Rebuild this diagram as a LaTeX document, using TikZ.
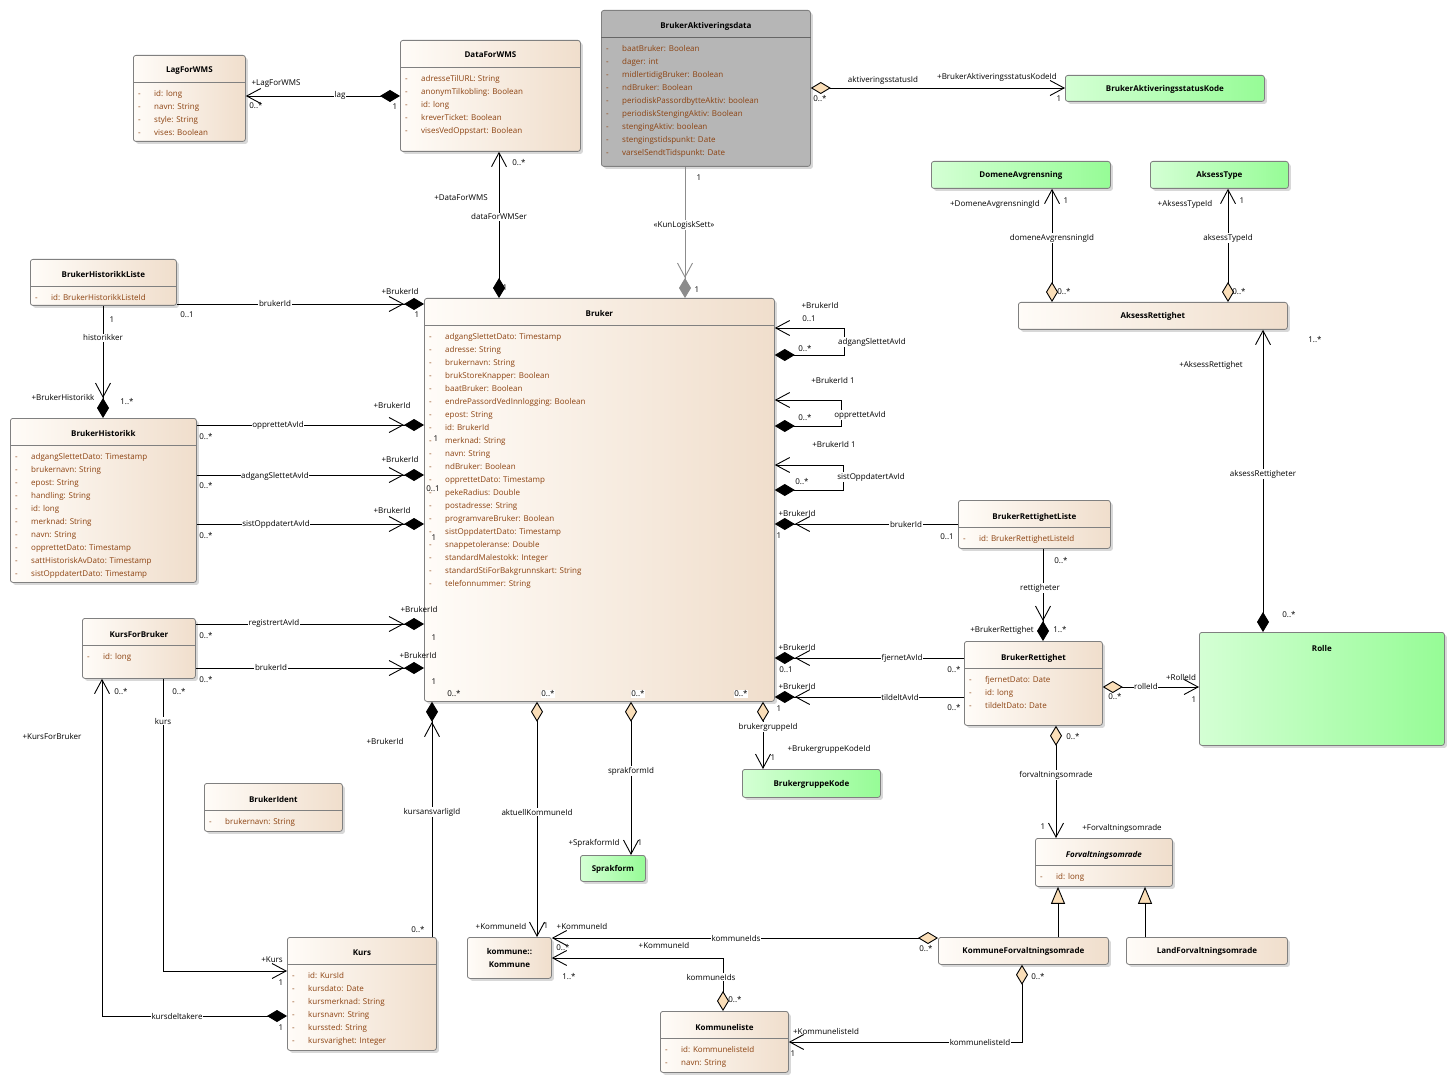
\documentclass[tikz,border=0pt]{standalone}
\usepackage{fontspec}
\setmainfont{Open Sans}
\usetikzlibrary{arrows.meta,calc,shadows}

\definecolor{clsL}{RGB}{255,252,248}
\definecolor{clsR}{RGB}{240,222,204}
\definecolor{grnL}{RGB}{212,255,212}
\definecolor{grnR}{RGB}{150,252,150}
\definecolor{greyC}{RGB}{182,182,182}
\definecolor{attC}{RGB}{140,66,16}
\definecolor{diaC}{RGB}{250,222,184}

% one attribute line of a class
\newcommand{\umlattr}[1]{\strut\makebox[16pt][l]{-}#1}

\begin{document}
\begin{tikzpicture}[x=1pt, y=-1pt,
  box/.style={draw=black!50, line width=0.8pt, rounded corners=2.5pt, anchor=north west, inner sep=0pt,
    drop shadow={shadow xshift=2.5pt, shadow yshift=-2.5pt, opacity=0.3}},
  cls/.style={box, left color=clsL, right color=clsR},
  kode/.style={box, left color=grnL, right color=grnR},
  grey/.style={box, fill=greyC},
  sepline/.style={draw=black!50, line width=0.8pt},
  ttl/.style={font=\fontsize{8}{13}\selectfont\bfseries, inner sep=0pt, align=center, text depth=0pt},
  att/.style={font=\fontsize{8}{13}\selectfont, text=attC, align=left, anchor=north west, inner sep=0pt},
  rl/.style={font=\fontsize{8}{10}\selectfont, inner sep=0.6pt},
  ml/.style={rl, fill=white},
  assoc/.style={draw=black, line width=0.9pt},
  cmp/.style={assoc, arrows={Straight Barb[length=14pt,width=15pt]-Diamond[length=20pt,width=12pt]}},
  navcmp/.style={assoc, arrows={-Straight Barb[length=14pt,width=15pt] Diamond[length=20pt,width=12pt]}},
  selfcmp/.style={assoc, arrows={Diamond[length=20pt,width=12pt]-Straight Barb[length=14pt,width=15pt]}},
  agg/.style={assoc, arrows={Diamond[length=20pt,width=12pt,fill=diaC]-Straight Barb[length=14pt,width=15pt]}},
  nav/.style={assoc, arrows={-Straight Barb[length=14pt,width=15pt]}},
  gen/.style={assoc, arrows={-Triangle[length=17pt,width=14pt,fill=diaC]}},
  logic/.style={navcmp, draw=black!45}]

\path[use as bounding box, fill=white] (0,0) rectangle (1454,1083);

% LagForWMS
\node[cls, minimum width=112, minimum height=86] (lagwms) at (133,55) {};
\node[ttl] (lagwmsT) at ($(lagwms.north)+(0,15)$) {LagForWMS};
\draw[sepline] ($(lagwms.north west)+(0,27)$) -- ($(lagwms.north east)+(0,27)$);
\node[att] (lagwmsA) at ($(lagwms.north west)+(5,32)$) {\umlattr{id: long}\\\umlattr{navn: String}\\\umlattr{style: String}\\\umlattr{vises: Boolean}};

% DataForWMS
\node[cls, minimum width=180, minimum height=111] (datawms) at (400,40) {};
\node[ttl] (datawmsT) at ($(datawms.north)+(0,15)$) {DataForWMS};
\draw[sepline] ($(datawms.north west)+(0,27)$) -- ($(datawms.north east)+(0,27)$);
\node[att] (datawmsA) at ($(datawms.north west)+(5,32)$) {\umlattr{adresseTilURL: String}\\\umlattr{anonymTilkobling: Boolean}\\\umlattr{id: long}\\\umlattr{kreverTicket: Boolean}\\\umlattr{visesVedOppstart: Boolean}};

% BrukerAktiveringsdata
\node[grey, minimum width=209, minimum height=156] (aktdata) at (601,10) {};
\node[ttl] (aktdataT) at ($(aktdata.north)+(0,15)$) {BrukerAktiveringsdata};
\draw[sepline, draw=black!60] ($(aktdata.north west)+(0,27)$) -- ($(aktdata.north east)+(0,27)$);
\node[att] (aktdataA) at ($(aktdata.north west)+(5,32)$) {\umlattr{baatBruker: Boolean}\\\umlattr{dager: int}\\\umlattr{midlertidigBruker: Boolean}\\\umlattr{ndBruker: Boolean}\\\umlattr{periodiskPassordbytteAktiv: boolean}\\\umlattr{periodiskStengingAktiv: Boolean}\\\umlattr{stengingAktiv: boolean}\\\umlattr{stengingstidspunkt: Date}\\\umlattr{varselSendtTidspunkt: Date}};

% Kode classes
\node[kode, minimum width=199, minimum height=26] (aktkode) at (1065,75) {};
\node[ttl] (aktkodeT) at (aktkode.center) {BrukerAktiveringsstatusKode};
\node[kode, minimum width=179, minimum height=27] (domene) at (931,161) {};
\node[ttl] (domeneT) at (domene.center) {DomeneAvgrensning};
\node[kode, minimum width=138, minimum height=27] (aksesstype) at (1150,161) {};
\node[ttl] (aksesstypeT) at (aksesstype.center) {AksessType};
\node[kode, minimum width=245, minimum height=113] (rolle) at (1199,632) {};
\node[ttl] (rolleT) at ($(rolle.north)+(0,16)$) {Rolle};
\node[kode, minimum width=65, minimum height=26] (sprakform) at (580,855) {};
\node[ttl] (sprakformT) at (sprakform.center) {Sprakform};
\node[kode, minimum width=138, minimum height=28] (gruppekode) at (742,769) {};
\node[ttl] (gruppekodeT) at (gruppekode.center) {BrukergruppeKode};

% AksessRettighet
\node[cls, minimum width=269, minimum height=27] (aksessrett) at (1018,302) {};
\node[ttl] (aksessrettT) at (aksessrett.center) {AksessRettighet};

% BrukerHistorikkListe
\node[cls, minimum width=146, minimum height=46] (histliste) at (30,259) {};
\node[ttl] (histlisteT) at ($(histliste.north)+(0,15)$) {BrukerHistorikkListe};
\draw[sepline] ($(histliste.north west)+(0,27)$) -- ($(histliste.north east)+(0,27)$);
\node[att] (histlisteA) at ($(histliste.north west)+(5,32)$) {\umlattr{id: BrukerHistorikkListeId}};

% BrukerHistorikk
\node[cls, minimum width=186, minimum height=164] (historikk) at (10,418) {};
\node[ttl] (historikkT) at ($(historikk.north)+(0,15)$) {BrukerHistorikk};
\draw[sepline] ($(historikk.north west)+(0,27)$) -- ($(historikk.north east)+(0,27)$);
\node[att] (historikkA) at ($(historikk.north west)+(5,32)$) {\umlattr{adgangSlettetDato: Timestamp}\\\umlattr{brukernavn: String}\\\umlattr{epost: String}\\\umlattr{handling: String}\\\umlattr{id: long}\\\umlattr{merknad: String}\\\umlattr{navn: String}\\\umlattr{opprettetDato: Timestamp}\\\umlattr{sattHistoriskAvDato: Timestamp}\\\umlattr{sistOppdatertDato: Timestamp}};

% Bruker
\node[cls, minimum width=350, minimum height=403] (bruker) at (424,298) {};
\node[ttl] (brukerT) at ($(bruker.north)+(0,15)$) {Bruker};
\draw[sepline] ($(bruker.north west)+(0,27)$) -- ($(bruker.north east)+(0,27)$);
\node[att] (brukerA) at ($(bruker.north west)+(5,32)$) {\umlattr{adgangSlettetDato: Timestamp}\\\umlattr{adresse: String}\\\umlattr{brukernavn: String}\\\umlattr{brukStoreKnapper: Boolean}\\\umlattr{baatBruker: Boolean}\\\umlattr{endrePassordVedInnlogging: Boolean}\\\umlattr{epost: String}\\\umlattr{id: BrukerId}\\\umlattr{merknad: String}\\\umlattr{navn: String}\\\umlattr{ndBruker: Boolean}\\\umlattr{opprettetDato: Timestamp}\\\umlattr{pekeRadius: Double}\\\umlattr{postadresse: String}\\\umlattr{programvareBruker: Boolean}\\\umlattr{sistOppdatertDato: Timestamp}\\\umlattr{snappetoleranse: Double}\\\umlattr{standardMalestokk: Integer}\\\umlattr{standardStiForBakgrunnskart: String}\\\umlattr{telefonnummer: String}};

% BrukerRettighetListe
\node[cls, minimum width=152, minimum height=48] (rettliste) at (958,500) {};
\node[ttl] (rettlisteT) at ($(rettliste.north)+(0,16)$) {BrukerRettighetListe};
\draw[sepline] ($(rettliste.north west)+(0,27)$) -- ($(rettliste.north east)+(0,27)$);
\node[att] (rettlisteA) at ($(rettliste.north west)+(5,32)$) {\umlattr{id: BrukerRettighetListeId}};

% BrukerRettighet
\node[cls, minimum width=138, minimum height=84] (rettighet) at (964,641) {};
\node[ttl] (rettighetT) at ($(rettighet.north)+(0,16)$) {BrukerRettighet};
\draw[sepline] ($(rettighet.north west)+(0,27)$) -- ($(rettighet.north east)+(0,27)$);
\node[att] (rettighetA) at ($(rettighet.north west)+(5,32)$) {\umlattr{fjernetDato: Date}\\\umlattr{id: long}\\\umlattr{tildeltDato: Date}};

% KursForBruker
\node[cls, minimum width=113, minimum height=60] (kursbruker) at (82,618) {};
\node[ttl] (kursbrukerT) at ($(kursbruker.north)+(0,16)$) {KursForBruker};
\draw[sepline] ($(kursbruker.north west)+(0,27)$) -- ($(kursbruker.north east)+(0,27)$);
\node[att] (kursbrukerA) at ($(kursbruker.north west)+(5,32)$) {\umlattr{id: long}};

% BrukerIdent
\node[cls, minimum width=138, minimum height=48] (brukerident) at (204,783) {};
\node[ttl] (brukeridentT) at ($(brukerident.north)+(0,16)$) {BrukerIdent};
\draw[sepline] ($(brukerident.north west)+(0,27)$) -- ($(brukerident.north east)+(0,27)$);
\node[att] (brukeridentA) at ($(brukerident.north west)+(5,32)$) {\umlattr{brukernavn: String}};

% Kurs
\node[cls, minimum width=149, minimum height=113] (kurs) at (287,937) {};
\node[ttl] (kursT) at ($(kurs.north)+(0,16)$) {Kurs};
\draw[sepline] ($(kurs.north west)+(0,27)$) -- ($(kurs.north east)+(0,27)$);
\node[att] (kursA) at ($(kurs.north west)+(5,32)$) {\umlattr{id: KursId}\\\umlattr{kursdato: Date}\\\umlattr{kursmerknad: String}\\\umlattr{kursnavn: String}\\\umlattr{kurssted: String}\\\umlattr{kursvarighet: Integer}};

% kommune::Kommune
\node[cls, minimum width=84, minimum height=41] (kommune) at (467,937) {};
\node[ttl] (kommuneT) at (kommune.center) {kommune::\\Kommune};

% Forvaltningsomrade
\node[cls, minimum width=137, minimum height=48] (forvalt) at (1035,838) {};
\node[ttl, font=\fontsize{8}{13}\selectfont\bfseries\itshape] (forvaltT) at ($(forvalt.north)+(0,16)$) {Forvaltningsomrade};
\draw[sepline] ($(forvalt.north west)+(0,27)$) -- ($(forvalt.north east)+(0,27)$);
\node[att] (forvaltA) at ($(forvalt.north west)+(5,32)$) {\umlattr{id: long}};

\node[cls, minimum width=170, minimum height=27] (kommuneforv) at (938,937) {};
\node[ttl] (kommuneforvT) at (kommuneforv.center) {KommuneForvaltningsomrade};
\node[cls, minimum width=161, minimum height=27] (landforv) at (1126,937) {};
\node[ttl] (landforvT) at (landforv.center) {LandForvaltningsomrade};

% Kommuneliste
\node[cls, minimum width=128, minimum height=61] (kommuneliste) at (660,1011) {};
\node[ttl] (kommunelisteT) at ($(kommuneliste.north)+(0,16)$) {Kommuneliste};
\draw[sepline] ($(kommuneliste.north west)+(0,27)$) -- ($(kommuneliste.north east)+(0,27)$);
\node[att] (kommunelisteA) at ($(kommuneliste.north west)+(5,32)$) {\umlattr{id: KommunelisteId}\\\umlattr{navn: String}};

% Connectors, top
\draw[cmp] (lagwms.east |- 0,96) -- (datawms.west |- 0,96);
\draw[cmp] (datawms.south -| 499,0) -- (bruker.north -| 499,0);
\draw[agg] (aktdata.east |- 0,88) -- (aktkode.west |- 0,88);
\draw[logic] (aktdata.south -| 685,0) -- (bruker.north -| 685,0);
\draw[agg] (aksessrett.north -| 1052,0) -- (domene.south -| 1052,0);
\draw[agg] (aksessrett.north -| 1228,0) -- (aksesstype.south -| 1228,0);
\draw[cmp] (aksessrett.south -| 1263,0) -- (rolle.north -| 1263,0);

% Connectors, left of Bruker
\draw[navcmp] (histliste.east |- 0,304) -- (bruker.west |- 0,304);
\draw[navcmp] (histliste.south -| 103,0) -- (historikk.north -| 103,0);
\draw[navcmp] (historikk.east |- 0,425) -- (bruker.west |- 0,425);
\draw[navcmp] (historikk.east |- 0,475) -- (bruker.west |- 0,475);
\draw[navcmp] (historikk.east |- 0,524) -- (bruker.west |- 0,524);
\draw[navcmp] (kursbruker.east |- 0,624) -- (bruker.west |- 0,624);
\draw[navcmp] (kursbruker.east |- 0,668) -- (bruker.west |- 0,668);

% Bruker to itself
\draw[selfcmp] (bruker.east |- 0,355) -- ++(70,0) |- (bruker.east |- 0,328);
\draw[selfcmp] (bruker.east |- 0,426) -- ++(67,0) |- (bruker.east |- 0,400);
\draw[selfcmp] (bruker.east |- 0,490) -- ++(69,0) |- (bruker.east |- 0,465);

% Connectors, right of Bruker
\draw[navcmp] (rettliste.west |- 0,524) -- (bruker.east |- 0,524);
\draw[navcmp] (rettliste.south -| 1043,0) -- (rettighet.north -| 1043,0);
\draw[navcmp] (rettighet.west |- 0,658) -- (bruker.east |- 0,658);
\draw[navcmp] (rettighet.west |- 0,697) -- (bruker.east |- 0,697);
\draw[agg] (rettighet.east |- 0,687) -- (rolle.west |- 0,687);
\draw[agg] (rettighet.south -| 1056,0) -- (forvalt.north -| 1056,0);
\draw[gen] (kommuneforv.north -| 1058,0) -- (forvalt.south -| 1058,0);
\draw[gen] (landforv.north -| 1145,0) -- (forvalt.south -| 1145,0);

% Connectors, below Bruker
\draw[cmp] (kursbruker.south -| 102,0) |- (kurs.west |- 0,1016);
\draw[nav] (kursbruker.south -| 163,0) |- (kurs.west |- 0,971);
\draw[navcmp] (kurs.north -| 432,0) -- (bruker.south -| 432,0);
\draw[agg] (bruker.south -| 537,0) -- (kommune.north -| 537,0);
\draw[agg] (bruker.south -| 631,0) -- (sprakform.north -| 631,0);
\draw[agg] (bruker.south -| 763,0) -- (gruppekode.north -| 763,0);
\draw[agg] (kommuneforv.west |- 0,938) -- (kommune.east |- 0,938);
\draw[agg] (kommuneliste.north -| 723,0) |- (kommune.east |- 0,958);
\draw[agg] (kommuneforv.south -| 1022,0) |- (kommuneliste.east |- 0,1042);

% Labels, top
\node[rl] (lagR) at (276,84) {+LagForWMS};
\node[rl] (lagM) at (256,106) {0..*};
\node[ml] (lagN) at (340,95) {lag};
\node[rl] (lagD) at (395,107) {1};
\node[rl] (wmsM) at (519,163) {0..*};
\node[rl] (wmsR) at (461,198) {+DataForWMS};
\node[ml] (wmsN) at (499,217) {dataForWMSer};
\node[rl] (wmsD) at (505,288) {1};
\node[rl] (aktN) at (883,80) {aktiveringsstatusId};
\node[rl] (aktR) at (997,77) {+BrukerAktiveringsstatusKodeId};
\node[rl] (aktM) at (820,99) {0..*};
\node[rl] (aktD) at (1059,99) {1};
\node[rl] (logM) at (699,178) {1};
\node[ml] (logN) at (684,225) {«KunLogiskSett»};
\node[rl] (logD) at (697,290) {1};
\node[rl] (domR) at (995,204) {+DomeneAvgrensningId};
\node[rl] (domM) at (1066,201) {1};
\node[ml] (domN) at (1052,238) {domeneAvgrensningId};
\node[rl] (domD) at (1064,292) {0..*};
\node[rl] (typR) at (1185,204) {+AksessTypeId};
\node[rl] (typM) at (1242,201) {1};
\node[ml] (typN) at (1228,238) {aksessTypeId};
\node[rl] (typD) at (1239,292) {0..*};
\node[rl] (arM) at (1315,340) {1..*};
\node[rl] (arR) at (1211,365) {+AksessRettighet};
\node[ml] (arN) at (1263,474) {aksessRettigheter};
\node[rl] (arD) at (1289,615) {0..*};

% Labels, left of Bruker
\node[ml] (hlN) at (275,304) {brukerId};
\node[rl] (hlM) at (187,315) {0..1};
\node[rl] (hlR) at (400,292) {+BrukerId};
\node[rl] (hlD) at (417,315) {1};
\node[rl] (hhM) at (112,320) {1};
\node[ml] (hhN) at (103,338) {historikker};
\node[rl] (hhR) at (63,397) {+BrukerHistorikk};
\node[rl] (hhD) at (127,402) {1..*};
\node[ml] (h1N) at (278,425) {opprettetAvId};
\node[rl] (h1M) at (206,437) {0..*};
\node[rl] (h1R) at (392,405) {+BrukerId};
\node[rl] (h1D) at (436,439) {1};
\node[ml] (h2N) at (275,476) {adgangSlettetAvId};
\node[rl] (h2M) at (206,486) {0..*};
\node[rl] (h2R) at (400,459) {+BrukerId};
\node[rl] (h2D) at (433,489) {0..1};
\node[ml] (h3N) at (276,524) {sistOppdatertAvId};
\node[rl] (h3M) at (206,536) {0..*};
\node[rl] (h3R) at (392,510) {+BrukerId};
\node[rl] (h3D) at (434,538) {1};
\node[ml] (k1N) at (274,623) {registrertAvId};
\node[rl] (k1M) at (206,636) {0..*};
\node[rl] (k1R) at (419,609) {+BrukerId};
\node[rl] (k1D) at (434,638) {1};
\node[ml] (k2N) at (271,667) {brukerId};
\node[rl] (k2M) at (206,680) {0..*};
\node[rl] (k2R) at (418,655) {+BrukerId};
\node[rl] (k2D) at (434,682) {1};

% Labels, Bruker to itself
\node[rl] (s1R) at (820,306) {+BrukerId};
\node[rl] (s1M) at (809,319) {0..1};
\node[ml] (s1N) at (872,342) {adgangSlettetAvId};
\node[rl] (s1D) at (805,349) {0..*};
\node[rl] (s2R) at (833,380) {+BrukerId 1};
\node[ml] (s2N) at (860,415) {opprettetAvId};
\node[rl] (s2D) at (805,418) {0..*};
\node[rl] (s3R) at (834,444) {+BrukerId 1};
\node[ml] (s3N) at (871,477) {sistOppdatertAvId};
\node[rl] (s3D) at (802,482) {0..*};

% Labels, right of Bruker
\node[ml] (rlN) at (906,524) {brukerId};
\node[rl] (rlM) at (947,537) {0..1};
\node[rl] (rlR) at (797,513) {+BrukerId};
\node[rl] (rlD) at (779,536) {1};
\node[rl] (rrM) at (1061,561) {0..*};
\node[ml] (rrN) at (1040,588) {rettigheter};
\node[rl] (rrR) at (1002,630) {+BrukerRettighet};
\node[rl] (rrD) at (1060,630) {1..*};
\node[ml] (f1N) at (902,658) {fjernetAvId};
\node[rl] (f1M) at (954,670) {0..*};
\node[rl] (f1R) at (797,647) {+BrukerId};
\node[rl] (f1D) at (786,670) {0..1};
\node[ml] (f2N) at (900,697) {tildeltAvId};
\node[rl] (f2M) at (954,708) {0..*};
\node[rl] (f2R) at (797,686) {+BrukerId};
\node[rl] (f2D) at (779,709) {1};
\node[ml] (roN) at (1146,686) {rolleId};
\node[rl] (roR) at (1181,677) {+RolleId};
\node[rl] (roM) at (1115,697) {0..*};
\node[rl] (roD) at (1194,700) {1};
\node[rl] (foM) at (1073,737) {0..*};
\node[ml] (foN) at (1056,775) {forvaltningsomrade};
\node[rl] (foD) at (1043,827) {1};
\node[rl] (foR) at (1122,828) {+Forvaltningsomrade};

% Labels, below Bruker
\node[rl] (kdM) at (121,692) {0..*};
\node[rl] (kdR) at (52,736) {+KursForBruker};
\node[ml] (kdN) at (177,1016) {kursdeltakere};
\node[rl] (kdD) at (281,1028) {1};
\node[rl] (kuM) at (179,692) {0..*};
\node[ml] (kuN) at (163,721) {kurs};
\node[rl] (kuR) at (272,960) {+Kurs};
\node[rl] (kuD) at (281,983) {1};
\node[rl] (kaR) at (385,741) {+BrukerId};
\node[ml] (kaN) at (432,812) {kursansvarligId};
\node[rl] (kaM) at (418,930) {0..*};
\node[rl] (kaD) at (454,694) {0..*};
\node[ml] (akD) at (548,694) {0..*};
\node[ml] (akN) at (537,812) {aktuellKommuneId};
\node[rl] (akR) at (501,926) {+KommuneId};
\node[rl] (akM) at (546,926) {1};
\node[ml] (spD) at (638,694) {0..*};
\node[ml] (spN) at (631,771) {sprakformId};
\node[rl] (spR) at (594,843) {+SprakformId};
\node[rl] (spM) at (640,843) {1};
\node[ml] (grD) at (741,694) {0..*};
\node[ml] (grN) at (768,727) {brukergruppeId};
\node[rl] (grR) at (829,749) {+BrukergruppeKodeId};
\node[rl] (grM) at (773,758) {1};
\node[rl] (kfR) at (582,926) {+KommuneId};
\node[rl] (kfM) at (563,948) {0..*};
\node[ml] (kfN) at (736,938) {kommuneIds};
\node[rl] (kfD) at (926,949) {0..*};
\node[rl] (klR) at (664,945) {+KommuneId};
\node[rl] (klM) at (569,977) {1..*};
\node[ml] (klN) at (711,977) {kommuneIds};
\node[rl] (klD) at (735,1000) {0..*};
\node[rl] (kkD) at (1038,977) {0..*};
\node[ml] (kkN) at (980,1042) {kommunelisteId};
\node[rl] (kkR) at (826,1031) {+KommunelisteId};
\node[rl] (kkM) at (793,1054) {1};
\end{tikzpicture}
\end{document}
